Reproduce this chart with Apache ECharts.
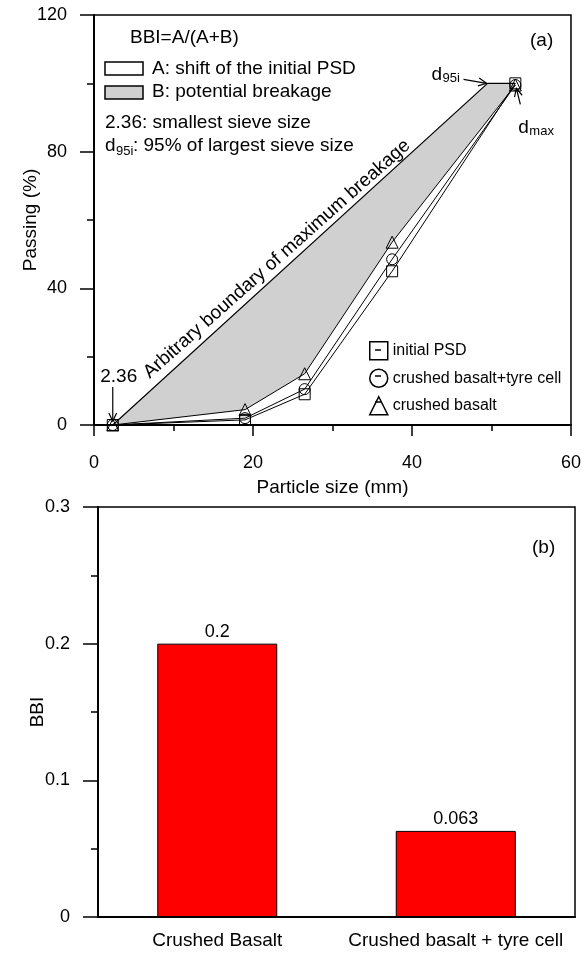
<!DOCTYPE html>
<html><head><meta charset="utf-8">
<script src="https://cdn.jsdelivr.net/npm/echarts@6/dist/echarts.min.js"></script>
<style>html,body{margin:0;padding:0;background:#fff}#c{width:584px;height:953px}</style>
</head><body><div id="c"></div>
<script>
// ---- data ----
const sieveSizes = [2.36, 19, 26.5, 37.5, 53];
const initialPSD = [0, 1.5, 9, 45, 100];
const basaltTyre = [0, 2, 10.5, 48.5, 99.5];
const basalt = [0, 4.5, 15, 53.5, 99.5];
const boundarySizes = [2.36, 49.5, 53];
const boundaryPassing = [0, 100, 100];
const seriesNames = ['initial PSD', 'crushed basalt+tyre cell', 'crushed basalt'];
const seriesIcons = ['rect', 'circle', 'triangle'];
const psdXTicks = [0, 20, 40, 60];
const psdYTicks = [0, 40, 80, 120];
const bbiCategories = ['Crushed Basalt', 'Crushed basalt + tyre cell'];
const bbiValues = [0.2, 0.063];
const bbiTicks = [0, 0.1, 0.2, 0.3];

const FONT = 'Liberation Sans, Arial, sans-serif';
const black = '#000';
const gray = '#d0d0d0';

function pairs(xs, ys) { return xs.map((x, i) => [x, ys[i]]); }

function valueAxis(ticks, gi, opts) {
  return Object.assign({
    type: 'value', gridIndex: gi,
    min: ticks[0], max: ticks[ticks.length - 1], interval: ticks[1] - ticks[0],
    axisLine: { show: true, onZero: false, lineStyle: { color: black, width: 2 } },
    axisTick: { show: true, inside: false, length: 12, lineStyle: { color: black, width: 1.5 } },
    minorTick: { show: true, splitNumber: 2, length: 7, lineStyle: { color: black, width: 1.5 } },
    splitLine: { show: false }, minorSplitLine: { show: false },
    axisLabel: { color: black, fontSize: 18, fontFamily: FONT },
    nameLocation: 'middle', nameMoveOverlap: false,
    nameTextStyle: { color: black, fontSize: 19, fontFamily: FONT }
  }, opts);
}

const psdValues = [initialPSD, basaltTyre, basalt];
const lineSeries = seriesNames.map((n, i) => ({
  name: n, type: 'line', xAxisIndex: 0, yAxisIndex: 0, z: 5,
  data: pairs(sieveSizes, psdValues[i]),
  symbol: seriesIcons[i], symbolSize: i === 2 ? 12 : 11,
  lineStyle: { color: black, width: 1 },
  itemStyle: { color: 'rgba(0,0,0,0)', borderColor: black, borderWidth: 1 }
}));

const option = {
  animation: false,
  backgroundColor: '#fff',
  textStyle: { fontFamily: FONT },
  grid: [
    { left: 94, top: 15, width: 478, height: 410, show: true, borderColor: black, borderWidth: 1.5, backgroundColor: 'transparent' },
    { left: 98, top: 507, width: 477, height: 410, show: true, borderColor: black, borderWidth: 1.5, backgroundColor: 'transparent' }
  ],
  xAxis: [
    valueAxis(psdXTicks, 0, {
      name: 'Particle size (mm)', nameGap: 53,
      axisTick: { show: true, length: 11, lineStyle: { color: black, width: 1.5 } },
      minorTick: { show: true, splitNumber: 2, length: 6, lineStyle: { color: black, width: 1.5 } },
      axisLabel: { color: black, fontSize: 18, fontFamily: FONT, margin: 29, verticalAlign: 'top' }
    }),
    {
      type: 'category', gridIndex: 1, data: bbiCategories,
      axisLine: { show: true, lineStyle: { color: black, width: 2 } },
      axisTick: { show: false },
      axisLabel: { color: black, fontSize: 19, fontFamily: FONT, margin: 14, interval: 0 },
      splitLine: { show: false }
    }
  ],
  yAxis: [
    valueAxis(psdYTicks, 0, {
      name: 'Passing (%)', nameGap: 54,
      axisTick: { show: true, length: 14, lineStyle: { color: black, width: 1.5 } },
      axisLabel: { color: black, fontSize: 18, fontFamily: FONT, margin: 27 }
    }),
    valueAxis(bbiTicks, 1, {
      name: 'BBI', nameGap: 51,
      axisTick: { show: true, length: 15, lineStyle: { color: black, width: 1.5 } },
      axisLabel: { color: black, fontSize: 18, fontFamily: FONT, margin: 28 }
    })
  ],
  legend: {
    data: seriesNames.map((n, i) => ({ name: n, icon: seriesIcons[i] })),
    orient: 'vertical', left: 369, top: 341, padding: 0,
    itemWidth: 18, itemHeight: 18, itemGap: 8,
    selectedMode: false,
    textStyle: { color: black, fontSize: 16, fontFamily: FONT },
    itemStyle: { color: '#fff', borderColor: black, borderWidth: 1.5 }
  },
  series: [
    {
      type: 'custom', xAxisIndex: 0, yAxisIndex: 0, z: 1, silent: true,
      data: [[sieveSizes[0], 0]],
      renderItem: function (params, api) {
        const pts = [];
        boundarySizes.forEach((x, i) => pts.push(api.coord([x, boundaryPassing[i]])));
        for (let i = sieveSizes.length - 1; i >= 0; i--) pts.push(api.coord([sieveSizes[i], basalt[i]]));
        return { type: 'polygon', shape: { points: pts }, style: { fill: gray, stroke: null } };
      }
    },
    {
      name: 'boundary', type: 'line', xAxisIndex: 0, yAxisIndex: 0, z: 4,
      data: pairs(boundarySizes, boundaryPassing), symbol: 'none',
      lineStyle: { color: black, width: 1.2 }
    },
    ...lineSeries,
    {
      name: 'BBI', type: 'bar', xAxisIndex: 1, yAxisIndex: 1,
      data: bbiValues, barWidth: 120,
      itemStyle: { color: '#ff0000', borderColor: black, borderWidth: 1 },
      label: { show: true, position: 'top', distance: 3, color: black, fontSize: 18, fontFamily: FONT,
        formatter: p => String(p.value) }
    }
  ]
};

const chart = echarts.init(document.getElementById('c'));
chart.setOption(option);

const P = (x, y) => chart.convertToPixel({ gridIndex: 0 }, [x, y]);

function arrow(tail, head, len) {
  len = len || 9;
  const dx = head[0] - tail[0], dy = head[1] - tail[1];
  const a = Math.atan2(dy, dx);
  const sp = 0.45;
  const p1 = [head[0] - len * Math.cos(a - sp), head[1] - len * Math.sin(a - sp)];
  const p2 = [head[0] - len * Math.cos(a + sp), head[1] - len * Math.sin(a + sp)];
  return [
    { type: 'line', shape: { x1: tail[0], y1: tail[1], x2: head[0], y2: head[1] }, style: { stroke: black, lineWidth: 1.2 }, z: 100 },
    { type: 'polyline', shape: { points: [p1, head, p2] }, style: { stroke: black, lineWidth: 1.2, fill: null }, z: 100 }
  ];
}
function txt(x, y, s, size, align) {
  return { type: 'text', x: x, y: y, z: 100,
    style: { text: s, fill: black, fontSize: size || 19, fontFamily: FONT, align: align || 'left', verticalAlign: 'middle' } };
}

const pStart = P(sieveSizes[0], 0);
const pD95 = P(boundarySizes[1], boundaryPassing[1]);
const pMax = P(sieveSizes[4], initialPSD[4]);

const g = [];
// top-left key
g.push(txt(130, 38, 'BBI=A/(A+B)'));
g.push({ type: 'rect', shape: { x: 105, y: 62, width: 38, height: 13 }, style: { fill: '#fff', stroke: black, lineWidth: 1.5 }, z: 100 });
g.push({ type: 'rect', shape: { x: 105, y: 86, width: 38, height: 13 }, style: { fill: gray, stroke: black, lineWidth: 1.5 }, z: 100 });
g.push(txt(152, 69, 'A: shift of the initial PSD'));
g.push(txt(152, 92, 'B: potential breakage'));
g.push(txt(105, 123, '2.36: smallest sieve size'));
g.push(txt(105, 146, 'd'));
g.push(txt(116, 151, '95i', 13));
g.push(txt(133, 146, ': 95% of largest sieve size'));
g.push(txt(530, 41, '(a)'));
g.push(txt(532, 548, '(b)'));
// 2.36 annotation
g.push(txt(pStart[0] + 6, pStart[1] - 48, '2.36', 19, 'center'));
g.push(...arrow([pStart[0], pStart[1] - 38], [pStart[0], pStart[1] - 4]));
// d95i annotation
g.push(...arrow([pD95[0] - 24, pD95[1] - 4], [pD95[0] - 1, pD95[1]]));
g.push(txt(pD95[0] - 56, pD95[1] - 9, 'd'));
g.push(txt(pD95[0] - 45, pD95[1] - 5, '95i', 13));
// dmax annotation
g.push(...arrow([pMax[0] + 5, pMax[1] + 21], [pMax[0] + 1, pMax[1] + 5]));
g.push(txt(pMax[0] + 3, pMax[1] + 44, 'd'));
g.push(txt(pMax[0] + 14, pMax[1] + 48, 'max', 13));
// rotated boundary label
g.push({ type: 'text', x: 277, y: 259, rotation: 41.6 * Math.PI / 180, z: 100,
  style: { text: 'Arbitrary boundary of maximum breakage', fill: black, fontSize: 19, fontFamily: FONT, align: 'center', verticalAlign: 'middle' } });
// dashes inside legend icons
[350, 376, 402].forEach(y => g.push({ type: 'line', shape: { x1: 375, y1: y, x2: 381, y2: y }, style: { stroke: black, lineWidth: 1.5 }, z: 100 }));

chart.setOption({ graphic: g });
</script>
</body></html>
